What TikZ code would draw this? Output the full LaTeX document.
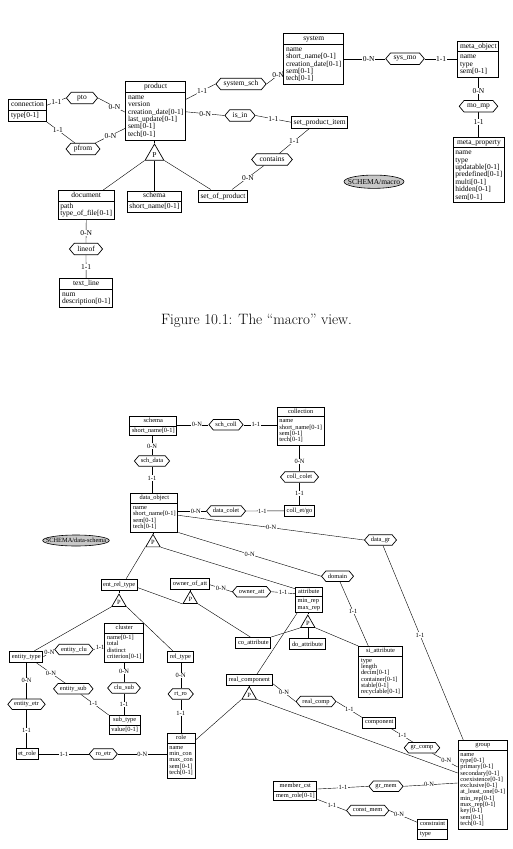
\documentclass[tikz,border=0pt]{standalone}
\usepackage{fontspec}
\newfontfamily\erfont{Liberation Serif}
\usetikzlibrary{shapes.geometric,shapes.symbols,shapes.multipart,calc,backgrounds}

\newcommand{\attlist}[1]{\begin{tabular}{@{}l@{}}#1\end{tabular}}

\tikzset{
  ent/.style={draw,line width=1pt,fill=white,rectangle split,rectangle split parts=2,
    rectangle split part align={center,left},inner xsep=2.2pt,inner ysep=1.2pt,anchor=north west},
  box/.style={draw,line width=1pt,fill=white,inner xsep=2.2pt,inner ysep=1pt},
  rel/.style={draw,line width=0.7pt,fill=white,signal,signal to=east and west,
    signal pointer angle=100,inner ysep=0.5pt},
  isa/.style={draw,line width=0.7pt,fill=white,regular polygon,regular polygon sides=3,inner sep=0pt},
  card/.style={fill=white,inner sep=0.5pt},
  view/.style={draw,ellipse,fill=black!22,line width=0.6pt,inner sep=0pt},
  fa/.style={font=\erfont\fontsize{7.5}{7.3}\selectfont},
  fb/.style={font=\erfont\fontsize{6.4}{6.2}\selectfont},
}

\begin{document}
\begin{tikzpicture}[x=1pt,y=-1pt,line width=0.6pt]
\useasboundingbox (0,0) rectangle (513,849);

% the macro view
\begin{scope}[every node/.append style={fa},box/.append style={minimum height=12.3pt},
  rel/.append style={minimum height=11.5pt,inner xsep=3pt}]
\node[ent] (product) at (125.3,81.3) {\strut product\nodepart{two}\attlist{name\\version\\creation\_date[0-1]\\last\_update[0-1]\\sem[0-1]\\tech[0-1]}};
\node[ent] (connection) at (8.3,99.3) {\strut connection\nodepart{two}\attlist{type[0-1]}};
\node[ent] (system) at (283.3,33.3) {\strut system\nodepart{two}\attlist{name\\short\_name[0-1]\\creation\_date[0-1]\\sem[0-1]\\tech[0-1]}};
\node[ent] (metaobject) at (457.3,40.7) {\strut meta\_object\nodepart{two}\attlist{name\\type\\sem[0-1]}};
\node[ent] (metaprop) at (452.7,136.7) {\strut meta\_property\nodepart{two}\attlist{name\\type\\updatable[0-1]\\predefined[0-1]\\multi[0-1]\\hidden[0-1]\\sem[0-1]}};
\node[ent] (document) at (57.7,190) {\strut document\nodepart{two}\attlist{path\\type\_of\_file[0-1]}};
\node[ent] (schemaA) at (126.7,190.5) {\strut schema\nodepart{two}\attlist{short\_name[0-1]}};
\node[ent] (textline) at (59.3,278.3) {\strut text\_line\nodepart{two}\attlist{num\\description[0-1]}};
\node[box] (setprodItem) at (319.7,122.2) {set\_product\_item};
\node[box] (setofprod) at (223,196.2) {set\_of\_product};
\node[rel,inner xsep=6pt] (pto) at (82,98) {pto};
\node[rel] (pfrom) at (83,149) {pfrom};
\node[rel] (systemsch) at (241,84) {system\_sch};
\node[rel] (sysmo) at (405,58.7) {sys\_mo};
\node[rel] (momp) at (478.5,106.3) {mo\_mp};
\node[rel] (isin) at (240,115.5) {is\_in};
\node[rel] (contains) at (272,159.5) {contains};
\node[rel] (lineof) at (86,249) {lineof};
\node[isa,minimum size=21.6pt] (isaProduct) at (154.5,154.8) {P};
\node[view,minimum width=60pt,minimum height=13.3pt] (macroview) at (374,181.7) {\makebox[0pt]{SCHEMA/macro}};

\begin{scope}[on background layer]
\draw ($(connection.north east)+(0,6)$) -- node[card]{1-1} (pto.west);
\draw (pto.east) -- node[card,pos=0.6]{0-N} ($(product.north west)+(0,31)$);
\draw (connection.south east) -- node[card,pos=0.4]{1-1} (pfrom);
\draw (pfrom) -- node[card]{0-N} ($(product.north west)+(0,47)$);
\draw ($(product.north east)+(0,18)$) -- node[card,pos=0.55]{1-1} (systemsch.west);
\draw (systemsch.east) -- node[card,pos=0.7]{0-N} ($(system.north west)+(0,38)$);
\draw (system.east |- sysmo) -- node[card,pos=0.6]{0-N} (sysmo.west);
\draw (sysmo.east) -- node[card]{1-1} (metaobject.west |- sysmo);
\draw (metaobject.south -| momp) -- node[card,pos=0.6]{0-N} (momp.north);
\draw (momp.south) -- node[card,pos=0.4]{1-1} (momp.south |- metaprop.north);
\draw ($(product.north east)+(0,30.5)$) -- node[card]{0-N} (isin.west);
\draw (isin.east) -- node[card]{1-1} (setprodItem.west);
\draw ($(setprodItem.south west)+(18,0)$) -- node[card]{1-1} (contains);
\draw (contains) -- node[card]{0-N} ($(setofprod.north)+(9,0)$);
\draw (isaProduct.corner 1) -- (isaProduct.corner 1 |- product.south);
\draw (isaProduct.corner 2) -- ($(document.north)+(17,0)$);
\draw (isaProduct.side 2) -- (isaProduct.side 2 |- schemaA.north);
\draw (isaProduct.corner 3) -- ($(setofprod.north west)+(13,0)$);
\draw (document.south) -- node[card,pos=0.55]{0-N} (lineof.north);
\draw (lineof.south) -- node[card]{1-1} (textline.north);
\end{scope}
\end{scope}

\node[font=\fontsize{15}{18}\selectfont] (caption) at (256.5,321) {Figure 10.1: The “macro” view.};

% the data view
\begin{scope}[every node/.append style={fb},box/.append style={minimum height=11pt},
  rel/.append style={minimum height=10.5pt,inner xsep=2pt}]
\node[ent] (schemaB) at (129.3,416) {\strut schema\nodepart{two}\attlist{short\_name[0-1]}};
\node[ent] (collection) at (276.7,406.7) {\strut collection\nodepart{two}\attlist{name\\short\_name[0-1]\\sem[0-1]\\tech[0-1]}};
\node[ent] (dataobject) at (130.3,493.3) {\strut data\_object\nodepart{two}\attlist{name\\short\_name[0-1]\\sem[0-1]\\tech[0-1]}};
\node[ent] (attribute) at (295,586.7) {\strut attribute\nodepart{two}\attlist{min\_rep\\max\_rep}};
\node[ent] (cluster) at (104.3,623.3) {\strut cluster\nodepart{two}\attlist{name[0-1]\\total\\distinct\\criterion[0-1]}};
\node[ent] (subtype) at (108.7,715) {\strut sub\_type\nodepart{two}\attlist{value[0-1]}};
\node[ent] (siattribute) at (358.3,646) {\strut si\_attribute\nodepart{two}\attlist{type\\length\\decim[0-1]\\container[0-1]\\stable[0-1]\\recyclable[0-1]}};
\node[ent] (role) at (166.7,733.3) {\strut role\nodepart{two}\attlist{name\\min\_con\\max\_con\\sem[0-1]\\tech[0-1]}};
\node[ent] (group) at (457.7,740) {\strut group\nodepart{two}\attlist{name\\type[0-1]\\primary[0-1]\\secondary[0-1]\\coexistence[0-1]\\exclusive[0-1]\\at\_least\_one[0-1]\\min\_rep[0-1]\\max\_rep[0-1]\\key[0-1]\\sem[0-1]\\tech[0-1]}};
\node[ent] (membercst) at (273.3,781) {\strut member\_cst\nodepart{two}\attlist{mem\_role[0-1]}};
\node[ent] (constraint) at (417.3,819.3) {\strut constraint\nodepart{two}\attlist{type}};
\node[box] (colletgo) at (299.5,510.8) {coll\_et/go};
\node[box] (entreltype) at (119.2,584.7) {ent\_rel\_type};
\node[box] (ownerofatt) at (190,583.7) {owner\_of\_att};
\node[box] (coattribute) at (253.3,643) {co\_attribute};
\node[box] (doattribute) at (307.5,644.2) {do\_attribute};
\node[box] (realcomponent) at (249.3,679.5) {real\_component};
\node[box] (component) at (379.3,722.6) {component};
\node[box] (entitytype) at (26.3,656.8) {entity\_type};
\node[box] (reltype) at (180.5,657) {rel\_type};
\node[box] (etrole) at (27.2,753.5) {et\_role};
\node[rel] (schcoll) at (226,424.7) {sch\_coll};
\node[rel] (schdata) at (152,461) {sch\_data};
\node[rel] (collcolet) at (299.5,477) {coll\_colet};
\node[rel] (datacolet) at (226,511) {data\_colet};
\node[rel] (datagr) at (380.5,540) {data\_gr};
\node[rel] (domain) at (337.5,576.2) {domain};
\node[rel] (owneratt) at (251.7,591.7) {owner\_att};
\node[rel] (realcomp) at (316,701.5) {real\_comp};
\node[rel] (grcomp) at (422,747.8) {gr\_comp};
\node[rel] (grmem) at (386,786.3) {gr\_mem};
\node[rel] (constmem) at (367.7,810.5) {const\_mem};
\node[rel] (entityclu) at (74,649.5) {entity\_clu};
\node[rel] (entitysub) at (73.3,688.8) {entity\_sub};
\node[rel] (clusub) at (124,688) {clu\_sub};
\node[rel] (entityetr) at (26.5,704.3) {entity\_etr};
\node[rel] (roetr) at (103.3,754) {ro\_etr};
\node[rel] (rtro) at (180.7,694) {rt\_ro};
\node[isa,minimum size=16.7pt] (isaData) at (153,542.7) {P};
\node[isa,minimum size=16.7pt] (isaEntrel) at (119,602.4) {P};
\node[isa,minimum size=16.7pt] (isaOwner) at (190.3,599.4) {P};
\node[isa,minimum size=16.7pt] (isaAttr) at (307.8,623.4) {P};
\node[isa,minimum size=16.7pt] (isaReal) at (249.2,695) {P};
\node[view,minimum width=66.6pt,minimum height=11pt] (dataview) at (76,540.5) {\makebox[0pt]{SCHEMA/data-schema}};

\begin{scope}[on background layer]
\draw (schemaB.east |- schcoll) -- node[card,pos=0.63]{0-N} (schcoll.west);
\draw (schcoll.east) -- node[card,pos=0.37]{1-1} (collection.west |- schcoll);
\draw (schemaB.south -| schdata) -- node[card]{0-N} (schdata.north);
\draw (schdata.south) -- node[card,pos=0.43]{1-1} (schdata.south |- dataobject.north);
\draw (collection.south -| collcolet) -- node[card,pos=0.6]{0-N} (collcolet.north);
\draw (collcolet.south) -- node[card]{1-1} (collcolet.south |- colletgo.north);
\draw (dataobject.east |- datacolet) -- node[card,pos=0.63]{0-N} (datacolet.west);
\draw (datacolet.east) -- node[card,pos=0.43]{1-1} (colletgo.west);
\draw ($(dataobject.north east)+(0,22)$) -- node[card]{0-N} (datagr.west);
\draw (dataobject.south east) -- node[card]{0-N} (domain.west);
\draw ($(datagr.south)+(2.5,0)$) -- node[card,pos=0.46]{1-1} ($(group.north west)+(5.6,0)$);
\draw ($(domain.south)+(2.5,0)$) -- node[card,pos=0.46]{1-1} ($(siattribute.north west)+(10,0)$);
\draw (isaData.corner 1) -- (isaData.corner 1 |- dataobject.south);
\draw (isaData.corner 2) -- ($(entreltype.north)+(7,0)$);
\draw (isaData.corner 3) -- ($(attribute.north west)+(0,2)$);
\draw (isaOwner.corner 1) -- (isaOwner.corner 1 |- ownerofatt.south);
\draw (isaOwner.corner 2) -- ($(entreltype.east)+(0,3)$);
\draw (isaOwner.corner 3) -- ($(coattribute.north)+(-3,0)$);
\draw ($(ownerofatt.east)+(0,1)$) -- node[card]{0-N} (owneratt.west);
\draw (owneratt.east) -- node[card]{1-1} ($(attribute.north west)+(0,7)$);
\draw (isaAttr.corner 1) -- (isaAttr.corner 1 |- attribute.south);
\draw (isaAttr.corner 2) -- (coattribute.north east);
\draw (isaAttr.side 2) -- (isaAttr.side 2 |- doattribute.north);
\draw (isaAttr.corner 3) -- (siattribute.north west);
\draw (isaReal.corner 1) -- (isaReal.corner 1 |- realcomponent.south);
\draw (isaReal.corner 1) -- ($(attribute.south west)+(2,0)$);
\draw (isaReal.corner 2) -- ($(role.north east)+(0,6.7)$);
\draw (isaReal.corner 3) -- ($(group.north west)+(0,33)$);
\draw ($(realcomponent.south east)+(0,-2)$) -- node[card]{0-N} (realcomp.west);
\draw (realcomp.east) -- node[card]{1-1} ($(component.north west)+(0,1)$);
\draw ($(component.south east)+(-5,0)$) -- node[card]{1-1} (grcomp);
\draw (grcomp) -- node[card,pos=0.55]{0-N} ($(group.north west)+(0,27)$);
\draw ($(membercst.north east)+(0,8)$) -- node[card]{1-1} (grmem.west);
\draw (grmem.east) -- node[card,pos=0.47]{0-N} ($(group.north west)+(0,43)$);
\draw ($(membercst.south east)+(0,-2)$) -- node[card]{1-1} (constmem.west);
\draw (constmem.east) -- node[card,pos=0.35]{0-N} ($(constraint.north west)+(0,3)$);
\draw (isaEntrel.corner 1) -- (isaEntrel.corner 1 |- entreltype.south);
\draw (isaEntrel.corner 2) -- ($(entitytype.north east)+(-9,0)$);
\draw (isaEntrel.corner 3) -- ($(reltype.north west)+(5.6,0)$);
\draw (entitytype.east) -- node[card,pos=0.55]{0-N} (entityclu.west);
\draw (entityclu.east) -- node[card,pos=0.6]{1-1} ($(cluster.north west)+(0,23)$);
\draw ($(entitytype.south east)+(-7,0)$) -- node[card]{0-N} (entitysub);
\draw (entitysub) -- node[card,pos=0.45]{1-1} (subtype.north west);
\draw (cluster.south -| clusub) -- node[card,pos=0.45]{0-N} (clusub.north);
\draw (clusub.south) -- node[card]{1-1} (clusub.south |- subtype.north);
\draw (entitytype.south -| entityetr) -- node[card]{0-N} (entityetr.north);
\draw (entityetr.south) -- node[card,pos=0.54]{1-1} (entityetr.south |- etrole.north);
\draw (etrole.east |- roetr) -- node[card]{1-1} (roetr.west);
\draw (roetr.east) -- node[card]{0-N} (role.west |- roetr);
\draw (reltype.south -| rtro) -- node[card]{0-N} (rtro.north);
\draw (rtro.south) -- node[card,pos=0.4]{1-1} (rtro.south |- role.north);
\end{scope}
\end{scope}
\end{tikzpicture}
\end{document}
